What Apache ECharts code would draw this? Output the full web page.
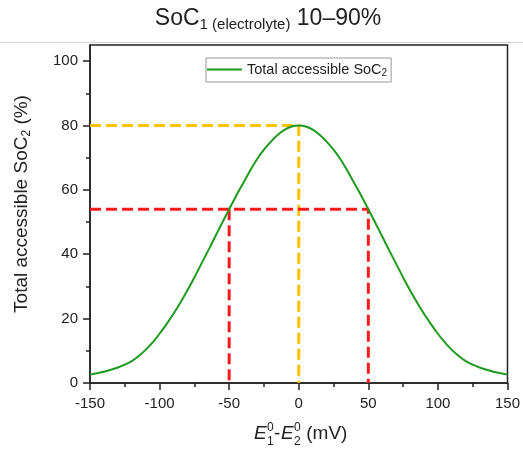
<!DOCTYPE html>
<html>
<head>
<meta charset="utf-8">
<script src="https://cdn.jsdelivr.net/npm/echarts@6/dist/echarts.min.js"></script>
<style>
  html, body { margin: 0; padding: 0; background: #fff; }
  #chart { width: 523px; height: 449px; }
</style>
</head>
<body>
<div id="chart"></div>
<script>
// Potential difference between the two redox couples (mV)
const potentialDiff = [-150, -145, -140, -135, -130, -125, -120, -115, -110, -105, -100, -95, -90, -85, -80,
  -75, -70, -65, -60, -55, -50, -45, -40, -35, -30, -25, -20, -15, -10, -5,
  0, 5, 10, 15, 20, 25, 30, 35, 40, 45, 50, 55, 60, 65, 70,
  75, 80, 85, 90, 95, 100, 105, 110, 115, 120, 125, 130, 135, 140, 145, 150];
// Total accessible SoC2 (%)
const accessibleSoC = [2.6, 3.0, 3.5, 4.1, 4.8, 5.7, 6.8, 8.4, 10.3, 12.6, 15.3, 18.3, 21.5, 25.0, 28.8,
  32.8, 37.0, 41.2, 45.5, 49.8, 54.0, 58.1, 62.0, 65.9, 69.5, 72.5, 75.0, 77.1, 78.7, 79.7,
  80.0, 79.7, 78.7, 77.1, 75.0, 72.5, 69.5, 65.9, 62.0, 58.1, 54.0, 49.8, 45.5, 41.2, 37.0,
  32.8, 28.8, 25.0, 21.5, 18.3, 15.3, 12.6, 10.3, 8.4, 6.8, 5.7, 4.8, 4.1, 3.5, 3.0, 2.6];

// Guide lines: peak value at 0 mV, and the value reached at ±50 mV
const peakGuideX = [-150, 0, 0];
const peakGuideY = [80, 80, 0];
const rightGuideX = [-150, 50, 50];
const rightGuideY = [54, 54, 0];
const leftGuideX = [-50, -50];
const leftGuideY = [54, 0];

const xTicks = [-150, -100, -50, 0, 50, 100, 150];
const yTicks = [0, 20, 40, 60, 80, 100];
const yMinorTicks = [10, 30, 50, 70, 90];

const FONT = "'Liberation Sans', Arial, Helvetica, sans-serif";
const AXIS_COLOR = '#222';
const pairs = (xs, ys) => xs.map((x, i) => [x, ys[i]]);

const chart = echarts.init(document.getElementById('chart'), null, { renderer: 'canvas' });

const dashed = (color) => ({ color: color, width: 3, type: [11, 5] });

chart.setOption({
  backgroundColor: '#fff',
  animation: false,
  grid: {
    left: 90, right: 12, top: 45, bottom: 66,
    show: true, borderColor: AXIS_COLOR, borderWidth: 1.5, backgroundColor: 'transparent'
  },
  legend: {
    show: true,
    data: [{ name: 'curve', icon: 'rect' }],
    left: 206, top: 58,
    padding: [4, 4, 4, 1],
    borderColor: '#999', borderWidth: 1,
    itemWidth: 35, itemHeight: 2, itemGap: 5,
    selectedMode: false,
    formatter: () => '{a|Total accessible SoC}{s|2}',
    textStyle: {
      fontFamily: FONT, color: '#222',
      rich: {
        a: { fontFamily: FONT, fontSize: 14.5, color: '#222', lineHeight: 17 },
        s: { fontFamily: FONT, fontSize: 10, color: '#222', verticalAlign: 'bottom', lineHeight: 8 }
      }
    }
  },
  xAxis: {
    type: 'value', min: xTicks[0], max: xTicks[xTicks.length - 1], interval: 50,
    axisLine: { show: true, onZero: false, lineStyle: { color: AXIS_COLOR, width: 1.5 } },
    axisTick: { show: true, inside: false, length: 7, lineStyle: { color: AXIS_COLOR, width: 1.5 } },
    minorTick: { show: true, splitNumber: 2, length: 4, lineStyle: { color: AXIS_COLOR, width: 1.5 } },
    splitLine: { show: false }, minorSplitLine: { show: false },
    axisLabel: { fontFamily: FONT, fontSize: 15, color: '#222', margin: 13 }
  },
  yAxis: [{
    type: 'value', min: 0, max: 105, position: 'left',
    axisLine: { show: true, onZero: false, lineStyle: { color: AXIS_COLOR, width: 1.5 } },
    axisTick: { show: true, inside: false, length: 7, customValues: yTicks, lineStyle: { color: AXIS_COLOR, width: 1.5 } },
    axisLabel: { fontFamily: FONT, fontSize: 15, color: '#222', margin: 12, customValues: yTicks },
    splitLine: { show: false }
  }, {
    type: 'value', min: 0, max: 105, position: 'left', offset: 0,
    axisLine: { show: false, onZero: false },
    axisTick: { show: true, inside: false, length: 4, customValues: yMinorTicks, lineStyle: { color: AXIS_COLOR, width: 1.5 } },
    axisLabel: { show: false },
    splitLine: { show: false }
  }],
  graphic: [
    // thin separator under the heading
    { type: 'line', shape: { x1: 0, y1: 42.5, x2: 523, y2: 42.5 }, style: { stroke: '#d4d4d4', lineWidth: 1 }, silent: true },
    {
      type: 'text', x: 268, y: 19, silent: true,
      style: {
        text: '{m|SoC}{s|1 (electrolyte)}{m| 10–90%}',
        align: 'center', verticalAlign: 'middle',
        rich: {
          m: { fontFamily: FONT, fontSize: 23, fill: '#222', lineHeight: 26 },
          s: { fontFamily: FONT, fontSize: 15, fill: '#222', verticalAlign: 'bottom', lineHeight: 15 }
        }
      }
    },
    // y-axis title, reading bottom to top
    {
      type: 'text', x: 22, y: 204, rotation: Math.PI / 2, silent: true,
      style: {
        text: '{m|Total accessible SoC}{s|2}{m| (%)}',
        align: 'center', verticalAlign: 'middle',
        rich: {
          m: { fontFamily: FONT, fontSize: 19, fill: '#222', lineHeight: 22 },
          s: { fontFamily: FONT, fontSize: 12, fill: '#222', verticalAlign: 'bottom', lineHeight: 12 }
        }
      }
    },
    // x-axis title: E1^0 - E2^0 (mV)
    {
      type: 'group', x: 254, y: 434, silent: true,
      children: [
        { type: 'text', x: 0, y: 0, style: { text: 'E', fontFamily: FONT, fontSize: 19, fontStyle: 'italic', fill: '#222', verticalAlign: 'middle' } },
        { type: 'text', x: 13, y: -6, style: { text: '0', fontFamily: FONT, fontSize: 12, fill: '#222', verticalAlign: 'middle' } },
        { type: 'text', x: 13, y: 8, style: { text: '1', fontFamily: FONT, fontSize: 12, fill: '#222', verticalAlign: 'middle' } },
        { type: 'text', x: 20, y: 0, style: { text: '-', fontFamily: FONT, fontSize: 19, fill: '#222', verticalAlign: 'middle' } },
        { type: 'text', x: 27, y: 0, style: { text: 'E', fontFamily: FONT, fontSize: 19, fontStyle: 'italic', fill: '#222', verticalAlign: 'middle' } },
        { type: 'text', x: 40, y: -6, style: { text: '0', fontFamily: FONT, fontSize: 12, fill: '#222', verticalAlign: 'middle' } },
        { type: 'text', x: 40, y: 8, style: { text: '2', fontFamily: FONT, fontSize: 12, fill: '#222', verticalAlign: 'middle' } },
        { type: 'text', x: 47, y: 0, style: { text: ' (mV)', fontFamily: FONT, fontSize: 19, fill: '#222', verticalAlign: 'middle' } }
      ]
    }
  ],
  series: [
    { name: 'peak', type: 'line', data: pairs(peakGuideX, peakGuideY), symbol: 'none', lineStyle: dashed('#FFC000'), z: 2, silent: true },
    { name: 'right', type: 'line', data: pairs(rightGuideX, rightGuideY), symbol: 'none', lineStyle: dashed('#FF1A1A'), z: 2, silent: true },
    { name: 'left', type: 'line', data: pairs(leftGuideX, leftGuideY), symbol: 'none', lineStyle: dashed('#FF1A1A'), z: 2, silent: true },
    {
      name: 'curve', type: 'line', data: pairs(potentialDiff, accessibleSoC),
      symbol: 'none', smooth: 0.3, z: 3,
      lineStyle: { color: '#1E9A1E', width: 2 }, itemStyle: { color: '#1E9A1E' }
    }
  ]
});
</script>
</body>
</html>
